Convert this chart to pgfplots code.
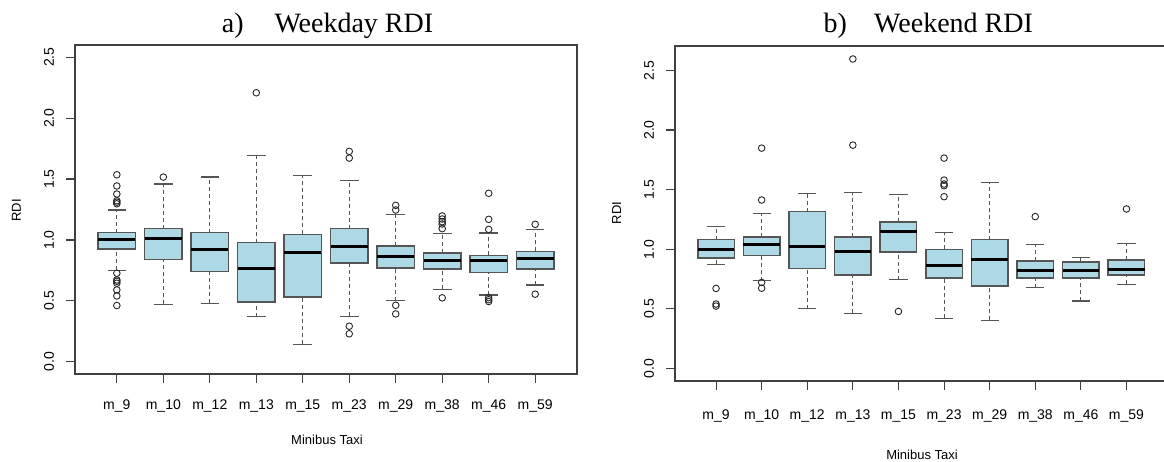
\documentclass[border=0pt]{standalone}
\usepackage{pgfplots}
\pgfplotsset{compat=1.18}
\usepgfplotslibrary{statistics}
\usepackage{fontspec}
\setmainfont{Liberation Sans}
\newfontfamily\titlefont{Liberation Serif}
\definecolor{boxfill}{HTML}{ADD8E6}
\definecolor{boxedge}{HTML}{555555}
\definecolor{frame}{HTML}{404040}
\newcommand{\bx}[6]{\addplot[boxplot prepared={draw position=#1, lower whisker=#2, lower quartile=#3, median=#4, upper quartile=#5, upper whisker=#6}] coordinates {};}
\pgfplotsset{
  rbox/.style={
    scale only axis,
    xmin=0.1, xmax=10.9,
    xtick={1,2,3,4,5,6,7,8,9,10},
    xticklabels={m\_9,m\_10,m\_12,m\_13,m\_15,m\_23,m\_29,m\_38,m\_46,m\_59},
    ytick={0,0.5,1,1.5,2,2.5},
    yticklabels={0.0,0.5,1.0,1.5,2.0,2.5},
    tick align=outside, tick pos=left,
    major tick length=9pt,
    axis line style={frame, line width=1.2pt},
    every tick/.style={frame, line width=1.1pt},
    ticklabel style={font=\fontsize{14}{16}\selectfont, text=black},
    yticklabel style={xshift=-8.5pt, rotate=90, anchor=south},
    boxplot/draw direction=y,
    boxplot/box extend=0.8,
    boxplot/whisker extend=0.4,
    boxplot/every box/.style={draw=boxedge, fill=boxfill, line width=1.5pt},
    boxplot/every median/.style={black, line width=3pt},
    boxplot/draw/lower whisker/.code={%
      \draw[boxedge, line width=1.1pt, dash pattern=on 4pt off 3pt]
        (boxplot cs:\pgfplotsboxplotvalue{lower whisker}) -- (boxplot cs:\pgfplotsboxplotvalue{lower quartile});
      \draw[boxedge, line width=1.2pt]
        (boxplot whisker cs:\pgfplotsboxplotvalue{lower whisker},0) -- (boxplot whisker cs:\pgfplotsboxplotvalue{lower whisker},1);
    },
    boxplot/draw/upper whisker/.code={%
      \draw[boxedge, line width=1.1pt, dash pattern=on 4pt off 3pt]
        (boxplot cs:\pgfplotsboxplotvalue{upper quartile}) -- (boxplot cs:\pgfplotsboxplotvalue{upper whisker});
      \draw[boxedge, line width=1.2pt]
        (boxplot whisker cs:\pgfplotsboxplotvalue{upper whisker},0) -- (boxplot whisker cs:\pgfplotsboxplotvalue{upper whisker},1);
    },
  },
  outl/.style={only marks, mark=o, mark size=3.3pt, mark options={black!85, line width=0.9pt}},
}
\begin{document}
\begin{tikzpicture}[x=1pt,y=1pt]
\useasboundingbox (0,0) rectangle (1164,461);
% ---------- a) Weekday
\begin{axis}[rbox, at={(75pt,87pt)}, anchor=south west, width=502pt, height=329pt,
  ymin=-0.1, ymax=2.6, xticklabel style={yshift=-13pt}]
\bx{1}{0.751}{0.924}{1.000}{1.060}{1.246}
\bx{2}{0.473}{0.839}{1.014}{1.093}{1.459}
\bx{3}{0.481}{0.743}{0.921}{1.060}{1.516}
\bx{4}{0.369}{0.492}{0.762}{0.978}{1.691}
\bx{5}{0.145}{0.530}{0.896}{1.046}{1.527}
\bx{6}{0.374}{0.809}{0.945}{1.093}{1.489}
\bx{7}{0.500}{0.768}{0.863}{0.951}{1.210}
\bx{8}{0.596}{0.760}{0.828}{0.891}{1.052}
\bx{9}{0.549}{0.735}{0.828}{0.874}{1.057}
\bx{10}{0.631}{0.762}{0.844}{0.907}{1.087}
\addplot[outl] coordinates {
 (1,1.535) (1,1.443) (1,1.377) (1,1.322) (1,1.310) (1,1.297)
 (1,0.727) (1,0.672) (1,0.661) (1,0.645) (1,0.590) (1,0.541) (1,0.462)
 (2,1.516)
 (4,2.208)
 (6,1.727) (6,1.672) (6,0.292) (6,0.230)
 (7,1.284) (7,1.246) (7,0.464) (7,0.393)
 (8,1.197) (8,1.172) (8,1.150) (8,1.131) (8,1.093) (8,0.525)
 (9,1.383) (9,1.169) (9,1.087) (9,0.527) (9,0.510) (9,0.495)
 (10,1.128) (10,0.555)
};
\end{axis}
% ---------- b) Weekend
\begin{axis}[rbox, at={(675pt,80pt)}, anchor=south west, width=492.5pt, height=335pt,
  ymin=-0.104, ymax=2.704, xticklabel style={yshift=-16pt}]
\bx{1}{0.875}{0.925}{1.000}{1.081}{1.190}
\bx{2}{0.736}{0.948}{1.037}{1.101}{1.302}
\bx{3}{0.502}{0.839}{1.023}{1.315}{1.469}
\bx{4}{0.463}{0.786}{0.978}{1.101}{1.477}
\bx{5}{0.744}{0.978}{1.148}{1.229}{1.458}
\bx{6}{0.421}{0.758}{0.867}{1.000}{1.140}
\bx{7}{0.404}{0.691}{0.911}{1.081}{1.561}
\bx{8}{0.677}{0.758}{0.819}{0.900}{1.037}
\bx{9}{0.566}{0.758}{0.819}{0.892}{0.934}
\bx{10}{0.705}{0.786}{0.830}{0.911}{1.048}
\addplot[outl] coordinates {
 (1,0.672) (1,0.541) (1,0.524)
 (2,1.848) (2,1.413) (2,0.722) (2,0.674)
 (4,2.595) (4,1.873)
 (5,0.479)
 (6,1.764) (6,1.580) (6,1.547) (6,1.533) (6,1.441)
 (8,1.274)
 (10,1.338)
};
\end{axis}
% ---------- titles and labels
\node[anchor=base west, inner sep=0pt, font=\titlefont\fontsize{28}{32}\selectfont] at (221.7,428) {a)};
\node[anchor=base west, inner sep=0pt, font=\titlefont\fontsize{28}{32}\selectfont] at (274.3,428) {Weekday RDI};
\node[anchor=base west, inner sep=0pt, font=\titlefont\fontsize{28}{32}\selectfont] at (823.3,428) {b)};
\node[anchor=base west, inner sep=0pt, font=\titlefont\fontsize{28}{32}\selectfont] at (874,428) {Weekend RDI};
\node[rotate=90, inner sep=0pt, font=\fontsize{13}{15}\selectfont] at (16.5,250.5) {RDI};
\node[rotate=90, inner sep=0pt, font=\fontsize{13}{15}\selectfont] at (616.7,248) {RDI};
\node[inner sep=0pt, font=\fontsize{13}{15}\selectfont] at (327,21) {Minibus Taxi};
\node[inner sep=0pt, font=\fontsize{13}{15}\selectfont] at (922,6) {Minibus Taxi};
\end{tikzpicture}
\end{document}
